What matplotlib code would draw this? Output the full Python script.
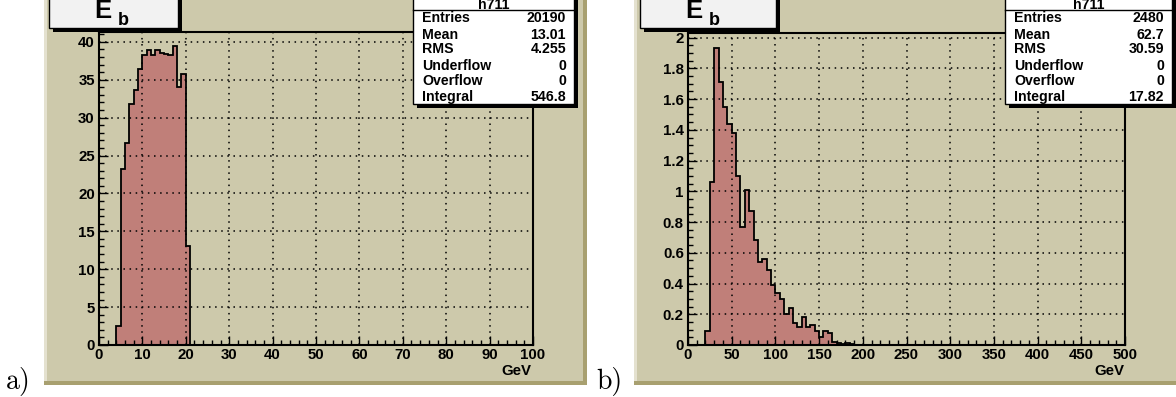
import matplotlib.pyplot as plt
import numpy as np
from matplotlib.patches import Rectangle
from matplotlib.ticker import MultipleLocator

W, H = 1176, 397

# E_b histogram, 0-100 GeV, 1 GeV bins (first filled bin starts at 4 GeV)
low_first_bin = 4
low_counts = [2.5, 23.2, 26.7, 31.8, 33.6, 36.4, 38.3, 38.9, 38.3, 38.9,
              38.5, 38.4, 38.2, 39.4, 34.0, 35.8, 13.0]
low_stats = [("Entries", "20190"), ("Mean", "13.01"), ("RMS", "4.255"),
             ("Underflow", "0"), ("Overflow", "0"), ("Integral", "546.8")]

# E_b histogram, 0-500 GeV, 5 GeV bins (first filled bin starts at 20 GeV)
high_first_bin = 4
high_counts = [0.09, 1.06, 1.93, 1.71, 1.55, 1.44, 1.38, 1.10, 0.77, 1.01,
               0.87, 0.68, 0.54, 0.56, 0.49, 0.39, 0.34, 0.30, 0.20, 0.24,
               0.14, 0.12, 0.18, 0.12, 0.13, 0.09, 0.05, 0.09, 0.08, 0.02,
               0.015, 0.006, 0.015, 0.004]
high_stats = [("Entries", "2480"), ("Mean", "62.7"), ("RMS", "30.59"),
              ("Underflow", "0"), ("Overflow", "0"), ("Integral", "17.82")]

CANVAS = "#cdc9ab"
DARK = "#a8a070"
LIGHT = "#e4e1cf"
FILL = "#c07f79"
FS = 10.8      # tick labels / axis title
SFS = 10.2     # stats box

plt.rcParams['font.family'] = ['Liberation Sans', 'DejaVu Sans']
plt.rcParams['font.weight'] = 'bold'

fig = plt.figure(figsize=(W / 100, H / 100), dpi=100)


def fx(x):
    return x / W


def fy(y):
    return 1 - y / H


def box(x0, y0, x1, y1, **kw):
    r = Rectangle((fx(x0), fy(y1)), (x1 - x0) / W, (y1 - y0) / H,
                  transform=fig.transFigure, **kw)
    fig.add_artist(r)
    return r


def canvas(x0, x1):
    box(x0, -5, x1, 385, facecolor=CANVAS, edgecolor='none', zorder=0)
    box(x0, -5, x0 + 3, 385, facecolor=LIGHT, edgecolor='none', zorder=0)
    box(x0, 381, x1, 385, facecolor=DARK, edgecolor='none', zorder=0)
    box(x1 - 4, -5, x1, 385, facecolor=DARK, edgecolor='none', zorder=0)


def title_box(x0, x1):
    box(x0 + 4, -5, x1 + 4, 32, facecolor='black', edgecolor='none', zorder=5)
    box(x0, -5, x1, 28, facecolor='#f2f2f2', edgecolor='black', lw=1, zorder=6)
    fig.text(fx(x0 + 45), fy(18), "E", fontsize=18.5, ha='left', va='baseline', zorder=7)
    fig.text(fx(x0 + 69), fy(25), "b", fontsize=13, ha='left', va='baseline', zorder=7)


def stats_box(x0, x1, rows):
    box(x0 + 4, -5, x1 + 4, 108, facecolor='black', edgecolor='none', zorder=5)
    box(x0, -5, x1, 104, facecolor='white', edgecolor='black', lw=1, zorder=6)
    fig.add_artist(plt.Line2D([fx(x0), fx(x1)], [fy(10), fy(10)],
                              transform=fig.transFigure, color='black', lw=1, zorder=7))
    fig.text(fx((x0 + x1) / 2), fy(5), "h711", fontsize=SFS, ha='center', va='center', zorder=7)
    ys = [18, 35, 49, 66, 81, 97]
    for (name, val), y in zip(rows, ys):
        fig.text(fx(x0 + 9), fy(y), name, fontsize=SFS, ha='left', va='center', zorder=7)
        fig.text(fx(x1 - 8), fy(y), val, fontsize=SFS, ha='right', va='center', zorder=7)


def hist_panel(rect, nbins, xmax, first, counts, ymax, xmaj, xmin, ymaj, ymin):
    ax = fig.add_axes(rect)
    ax.set_facecolor(CANVAS)
    vals = np.zeros(nbins)
    vals[first:first + len(counts)] = counts
    edges = np.linspace(0, xmax, nbins + 1)
    ax.stairs(vals, edges, fill=True, color=FILL, zorder=2)
    ax.stairs(vals, edges, color='black', lw=1.3, zorder=3)
    ax.set_xlim(0, xmax)
    ax.set_ylim(0, ymax)
    ax.xaxis.set_major_locator(MultipleLocator(xmaj))
    ax.xaxis.set_minor_locator(MultipleLocator(xmin))
    ax.yaxis.set_major_locator(MultipleLocator(ymaj))
    ax.yaxis.set_minor_locator(MultipleLocator(ymin))
    ax.grid(True, which='major', color='black', lw=1.1, linestyle=(0, (1, 3)), zorder=1)
    ax.set_axisbelow(False)
    ax.tick_params(which='both', direction='in', top=False, right=False,
                   labelsize=FS, width=1, zorder=4)
    ax.tick_params(which='major', length=6.5)
    ax.tick_params(which='minor', length=3.5)
    ax.tick_params(axis='x', pad=2.5)
    ax.tick_params(axis='y', pad=3)
    for s in ax.spines.values():
        s.set_linewidth(1.5)
        s.set_zorder(4)
    ax.yaxis.set_major_formatter(plt.FuncFormatter(lambda v, p: f"{v:g}"))
    return ax


canvas(44, 587)
canvas(634, 1185)

hist_panel([fx(99), fy(345), (533 - 99) / W, (345 - 32) / H],
           100, 100, low_first_bin, low_counts, 41.3, 10, 2, 5, 1)
hist_panel([fx(688), fy(345), (1125 - 688) / W, (345 - 33) / H],
           100, 500, high_first_bin, high_counts, 2.03, 50, 10, 0.2, 0.05)

fig.text(fx(531), fy(371), "GeV", fontsize=FS, ha='right', va='center')
fig.text(fx(1124), fy(371), "GeV", fontsize=FS, ha='right', va='center')

title_box(49, 178)
title_box(640, 776)
stats_box(413, 574, low_stats)
stats_box(1005, 1172, high_stats)

fig.text(fx(6), fy(381), "a)", fontsize=20, family='cmr10', fontweight='normal',
         ha='left', va='center')
fig.text(fx(596), fy(381), "b)", fontsize=20, family='cmr10', fontweight='normal',
         ha='left', va='center')

fig.savefig("out.png", dpi=100, facecolor='white')
